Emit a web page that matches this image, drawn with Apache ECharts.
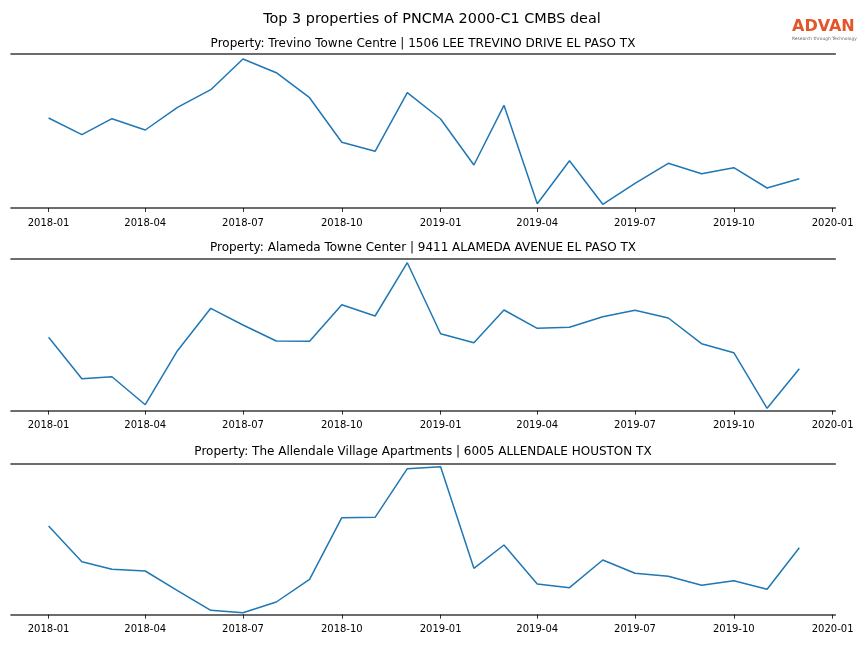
<!DOCTYPE html>
<html>
<head>
<meta charset="utf-8">
<script src="https://cdn.jsdelivr.net/npm/echarts@6/dist/echarts.min.js"></script>
<style>
html,body{margin:0;padding:0;background:#fff;}
#chart{width:864px;height:648px;}
</style>
</head>
<body>
<div id="chart"></div>
<script>
// Monthly categories (first of each month)
const months = ['2018-01','2018-02','2018-03','2018-04','2018-05','2018-06','2018-07','2018-08','2018-09','2018-10','2018-11','2018-12',
                '2019-01','2019-02','2019-03','2019-04','2019-05','2019-06','2019-07','2019-08','2019-09','2019-10','2019-11','2019-12'];
const tickLabels = ['2018-01','2018-04','2018-07','2018-10','2019-01','2019-04','2019-07','2019-10','2020-01'];

const mainTitle = 'Top 3 properties of PNCMA 2000-C1 CMBS deal';
const panelTitles = [
  'Property: Trevino Towne Centre | 1506 LEE TREVINO DRIVE EL PASO TX',
  'Property: Alameda Towne Center | 9411 ALAMEDA AVENUE EL PASO TX',
  'Property: The Allendale Village Apartments | 6005 ALLENDALE HOUSTON TX'
];

// Relative activity values (arbitrary units)
const trevino = [90, 73.3, 89.3, 78, 100.7, 118.3, 149, 135.3, 110.3, 65.7, 56.7, 115.3,
                 89, 43, 102.7, 4.3, 47.3, 3.7, 24.7, 44.7, 34.3, 40.3, 20, 29.3];
const alameda = [73.4, 32, 34, 6, 60, 102.4, 85.7, 69.7, 69.4, 106, 94.7, 148,
                 77, 68, 100.7, 82.4, 83.4, 94, 100.4, 92.7, 67, 58, 2.4, 42];
const allendale = [88.7, 53, 45.4, 43.7, 24, 4.4, 2, 12.7, 35.4, 97, 97.4, 146,
                   148, 46.4, 69.7, 30.7, 27, 54.7, 41.4, 38.4, 29.4, 34, 25.4, 67];
const yMax = [154, 151.7, 150.7];

function toTs(s){ const p = s.split('-'); return Date.UTC(+p[0], +p[1]-1, 1); }
const DAY = 86400000;
const xMin = toTs('2018-01') - 35*DAY;
const xMax = toTs('2020-01') + 2.5*DAY;
const tickTs = tickLabels.map(toTs);

const seriesData = [trevino, alameda, allendale];
const gridTops = [54, 259, 464];
const gridHeights = [154, 151.7, 150.7];
const titleTops = [37.5, 241.5, 445.5];

const grids = [], xAxes = [], yAxes = [], series = [], titles = [];
titles.push({text: mainTitle, left: 'center', top: 12.5, padding: 0,
  textStyle:{fontFamily:'DejaVu Sans', fontSize:14.4, fontWeight:'normal', color:'#000'}});

function fmt(v){
  let best = 0, bd = Infinity;
  tickTs.forEach((t,k)=>{ const d = Math.abs(t - v); if (d < bd){ bd = d; best = k; } });
  return tickLabels[best];
}

for (let i=0;i<3;i++){
  grids.push({left: 11, right: 28.7, top: gridTops[i], height: gridHeights[i]});
  titles.push({text: panelTitles[i], left: 423, textAlign: 'center', top: titleTops[i], padding: 0,
    textStyle:{fontFamily:'DejaVu Sans', fontSize:12, fontWeight:'normal', color:'#000'}});
  // bottom axis with ticks
  xAxes.push({type:'value', gridIndex:i, min:xMin, max:xMax, position:'bottom',
    axisLine:{show:true, lineStyle:{color:'#3d3d3d', width:1.6}},
    axisTick:{show:true, length:4, customValues: tickTs, lineStyle:{color:'#000', width:0.8}},
    axisLabel:{show:true, customValues: tickTs, formatter: fmt, margin:10,
      fontFamily:'DejaVu Sans', fontSize:10, color:'#000', hideOverlap:false, showMinLabel:true, showMaxLabel:true},
    splitLine:{show:false}, minorTick:{show:false}});
  // top spine
  xAxes.push({type:'value', gridIndex:i, min:xMin, max:xMax, position:'top',
    axisLine:{show:true, lineStyle:{color:'#3d3d3d', width:1.6}},
    axisTick:{show:false}, axisLabel:{show:false}, splitLine:{show:false}});
  yAxes.push({type:'value', gridIndex:i, min:0, max:yMax[i], show:false, splitLine:{show:false}});
  series.push({type:'line', xAxisIndex: 2*i, yAxisIndex: i,
    data: months.map((m,k)=>[toTs(m), seriesData[i][k]]),
    showSymbol:false, symbol:'none', lineStyle:{color:'#1f77b4', width:1.5}, itemStyle:{color:'#1f77b4'},
    animation:false});
}

const chart = echarts.init(document.getElementById('chart'), null, {renderer:'canvas'});
chart.setOption({
  backgroundColor:'#fff',
  animation:false,
  title: titles,
  grid: grids,
  xAxis: xAxes,
  yAxis: yAxes,
  series: series,
  graphic: [
    {type:'text', left: 792, top: 19, style:{text:'ADVAN', font:'bold 16px "DejaVu Sans"', fill:'#e4552b'}},
    {type:'text', left: 792, top: 36.5, style:{text:'Research through Technology', font:'4.4px "DejaVu Sans"', fill:'#666'}}
  ]
});
</script>
</body>
</html>
